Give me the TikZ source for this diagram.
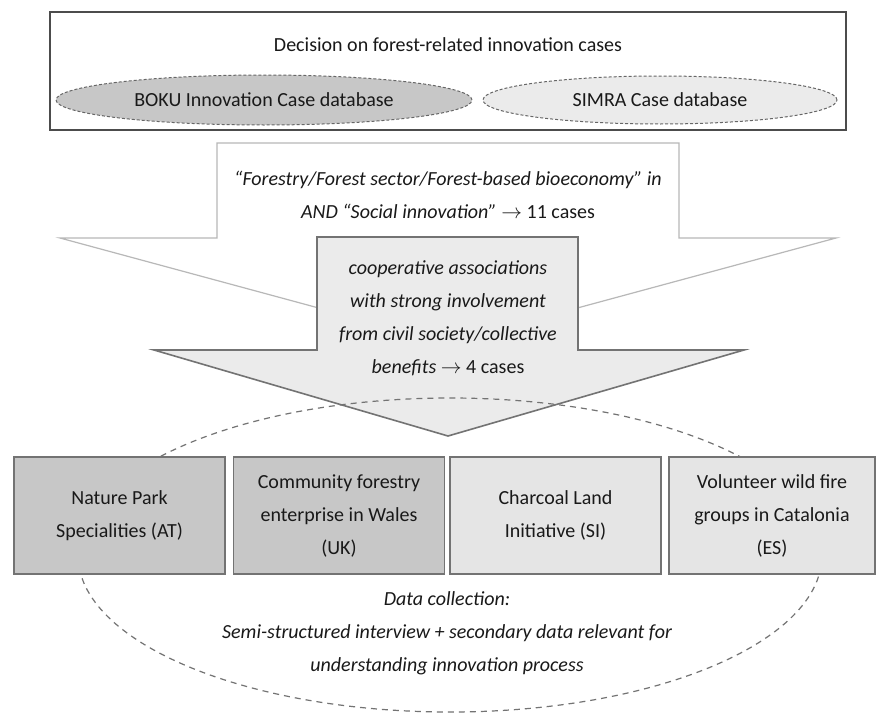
\documentclass[tikz,border=0pt]{standalone}
\usepackage{fontspec}
\setmainfont{Carlito}
\usetikzlibrary{shapes.geometric}
\begin{document}
\begin{tikzpicture}[x=1pt,y=-1pt,
  every node/.style={font=\fontsize{20}{33}\selectfont, align=center, inner sep=0pt, text=black!90},
  dbell/.style={ellipse, draw=black!60, line width=1pt, dash pattern=on 3pt off 2pt},
  casebox/.style={draw=black!55, line width=1.6pt, minimum width=211pt, minimum height=117pt},
  itxt/.style={font=\fontsize{20}{33}\selectfont\itshape}]
\useasboundingbox (0,0) rectangle (877,717);
\fill[white] (0,0) rectangle (877,717);
% top box
\draw[draw=black!70, line width=1.2pt] (50,12) rectangle (846,130);
\node (title) at (448,45) {Decision on forest-related innovation cases};
\node[dbell, fill=black!22, minimum width=416pt, minimum height=50pt] (boku) at (264,100) {BOKU Innovation Case database};
\node[dbell, fill=black!8, minimum width=354pt, minimum height=48pt] (simra) at (660,100) {SIMRA Case database};
% big arrow
\draw[fill=white, draw=black!28, line width=1.2pt] (217,143) -- (679,143) -- (679,238) -- (836,238) -- (448,343) -- (60,238) -- (217,238) -- cycle;
\node[itxt] (sel1) at (448,195) {“Forestry/Forest sector/Forest-based bioeconomy” in\\AND “Social innovation” {\upshape$\rightarrow$ 11 cases}};
% small arrow
\draw[fill=black!8, draw=black!55, line width=1.6pt] (317,237) -- (578,237) -- (578,350) -- (744,350) -- (448,436) -- (154,350) -- (317,350) -- cycle;
\node[itxt] (sel2) at (448,318) {cooperative associations\\with strong involvement\\from civil society/collective\\benefits {\upshape$\rightarrow$ 4 cases}};
% dashed ellipse
\draw[draw=black!55, line width=1.2pt, dash pattern=on 6pt off 5pt] (450,555) ellipse [x radius=372, y radius=157];
% case boxes
\node[casebox, fill=black!22] (c1) at (119.5,515.5) {Nature Park\\Specialities (AT)};
\node[casebox, fill=black!22] (c2) at (339,515.5) {Community forestry\\enterprise in Wales\\(UK)};
\node[casebox, fill=black!10] (c3) at (555.5,515.5) {Charcoal Land\\Initiative (SI)};
\node[casebox, fill=black!10, minimum width=206pt] (c4) at (772,515.5) {Volunteer wild fire\\groups in Catalonia\\(ES)};
\node[itxt] (data) at (447,633) {Data collection:\\Semi-structured interview + secondary data relevant for\\understanding innovation process};
\end{tikzpicture}
\end{document}
